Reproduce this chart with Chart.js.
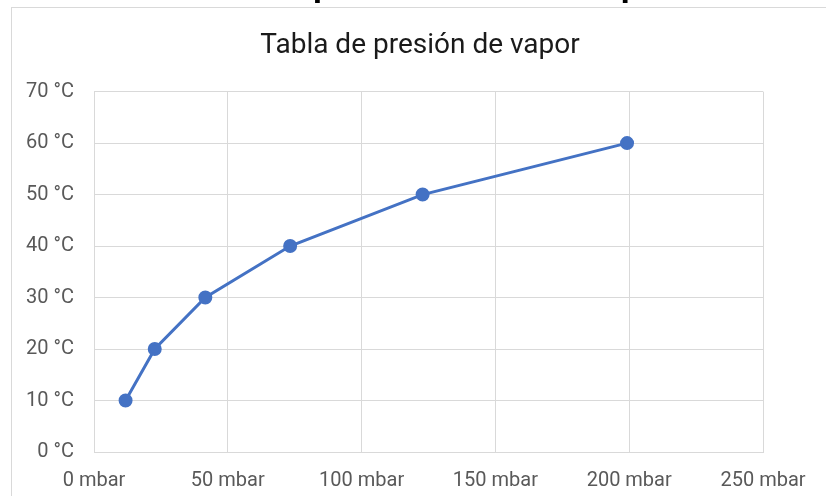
<!DOCTYPE html>
<html>
<head>
<meta charset="utf-8">
<script src="https://cdn.jsdelivr.net/npm/chart.js@4"></script>
<style>
  html, body { margin: 0; padding: 0; background: #fff; }
  #wrap { position: relative; width: 826px; height: 496px; overflow: hidden; }
  #heading {
    position: absolute; left: -14px; top: -45px; width: 826px;
    font: 52px/40px Roboto, sans-serif; color: #000; white-space: nowrap;
    text-align: center; margin: 0;
  }
  #frame {
    position: absolute; left: 11px; top: 7px; width: 830px; height: 500px;
    border-left: 1px solid #d9d9d9; border-top: 1px solid #d9d9d9;
  }
  #chart { position: absolute; left: 0; top: 0; }
</style>
</head>
<body>
<div id="wrap">
  <div id="heading">Tabla de presión de vapor</div>
  <div id="frame"></div>
  <canvas id="chart" width="826" height="496"></canvas>
</div>
<script>
// vapour pressure of water (mbar) against temperature (°C)
var pressures    = [11.8, 22.7, 41.6, 73.3, 122.8, 199.2];
var temperatures = [10, 20, 30, 40, 50, 60];
var chartTitle   = 'Tabla de presión de vapor';
var xUnit = ' mbar';
var yUnit = ' °C';

var points = [];
for (var i = 0; i < pressures.length; i++) {
  points[i] = { x: pressures[i], y: temperatures[i] };
}

Chart.defaults.font.family = 'Roboto, sans-serif';

var ctx = document.getElementById('chart');
var vaporChart = new Chart(ctx, {
  type: 'scatter',
  data: {
    datasets: [{
      data: points,
      showLine: true,
      borderColor: '#4472c4',
      backgroundColor: '#4472c4',
      borderWidth: 3,
      pointRadius: 5.5,
      pointHoverRadius: 5.5,
      tension: 0
    }]
  },
  options: {
    responsive: false,
    animation: false,
    layout: { padding: { left: 14, right: 0, top: 0, bottom: 0 } },
    plugins: {
      legend: { display: false },
      tooltip: { enabled: false },
      title: {
        display: true,
        text: chartTitle,
        color: '#1a1a1a',
        font: { size: 28, weight: 'normal' },
        padding: { top: 29, bottom: 29 }
      }
    },
    scales: {
      x: {
        type: 'linear',
        min: 0, max: 250,
        afterFit: function(scale) { scale.height = 44; },
        ticks: {
          stepSize: 50,
          color: '#595959',
          font: { size: 20 },
          padding: 17,
          maxRotation: 0,
          callback: function(v) { return v + xUnit; }
        },
        grid: { color: '#d9d9d9', drawTicks: false },
        border: { color: '#d9d9d9' }
      },
      y: {
        min: 0, max: 70,
        afterFit: function(scale) { scale.width = 80; },
        ticks: {
          stepSize: 10,
          color: '#595959',
          font: { size: 20 },
          padding: 20,
          callback: function(v) { return v + yUnit; }
        },
        grid: { color: '#d9d9d9', drawTicks: false },
        border: { color: '#d9d9d9' }
      },
      // empty right-hand axis, only reserves the margin right of the plot
      spacer: {
        type: 'linear',
        position: 'right',
        min: 0, max: 70,
        afterFit: function(scale) { scale.width = 63; },
        ticks: { display: false },
        grid: { display: false, drawTicks: false },
        border: { display: false }
      }
    }
  }
});
</script>
</body>
</html>
